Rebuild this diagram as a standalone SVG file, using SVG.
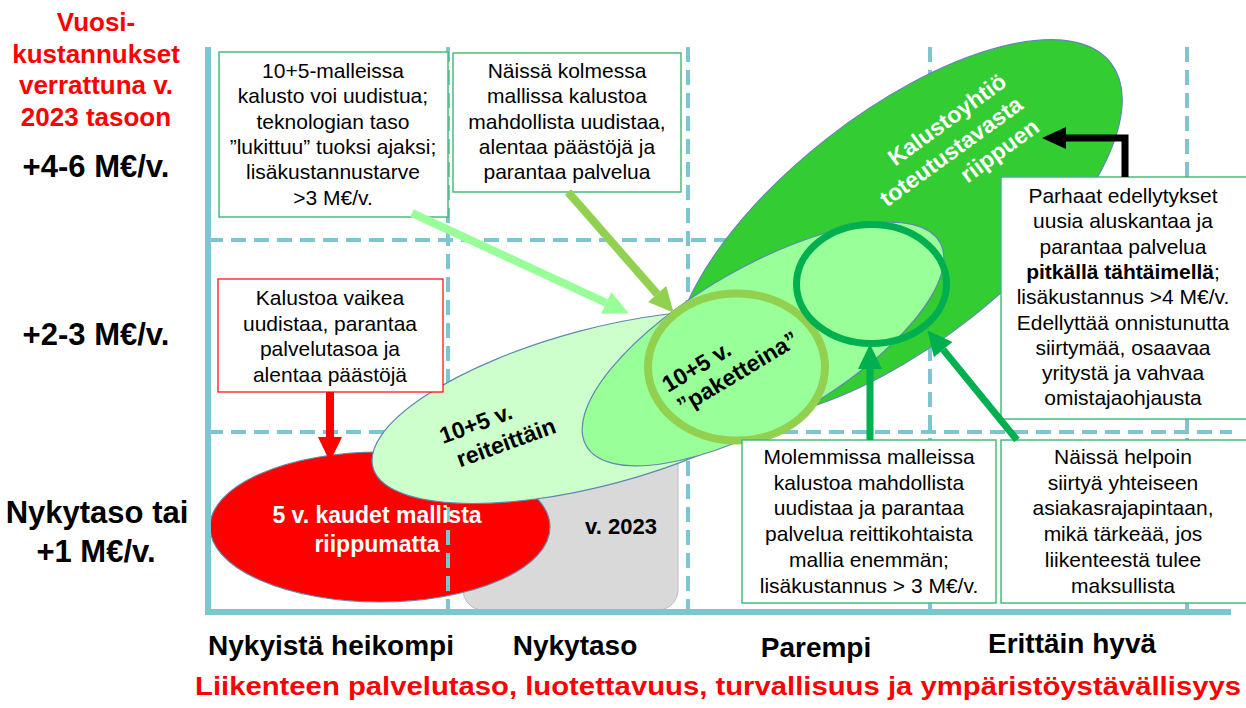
<svg xmlns="http://www.w3.org/2000/svg" width="1246" height="708" viewBox="0 0 1246 708">
<defs>
<style>
text{font-family:"Liberation Sans",Arial,sans-serif}
.bx{fill:#fff;stroke:#3DB872;stroke-width:1.4}
.bxr{fill:#fff;stroke:#FF0000;stroke-width:1.2}
.tb{font-size:21px;fill:#000;text-anchor:middle}
.lbl{font-size:31px;font-weight:bold;fill:#000;text-anchor:middle}
.red{font-size:26px;font-weight:bold;fill:#FF0000;text-anchor:middle}
.ax{font-size:28px;font-weight:bold;fill:#000;text-anchor:middle}
.el{stroke:#5F88AD;stroke-width:1.2}
.in{font-size:23px;font-weight:bold}
</style>
<marker id="ah-lg" markerUnits="userSpaceOnUse" markerWidth="26" markerHeight="26" refX="0" refY="12" orient="auto" overflow="visible"><path d="M0,0 L25,12 L0,24 z" fill="#99FF99"/></marker>
<marker id="ah-ol" markerUnits="userSpaceOnUse" markerWidth="26" markerHeight="26" refX="0" refY="12" orient="auto" overflow="visible"><path d="M0,0 L25,12 L0,24 z" fill="#92D050"/></marker>
<marker id="ah-red" markerUnits="userSpaceOnUse" markerWidth="26" markerHeight="26" refX="0" refY="12" orient="auto" overflow="visible"><path d="M0,0 L25,12 L0,24 z" fill="#FF0000"/></marker>
<marker id="ah-dg" markerUnits="userSpaceOnUse" markerWidth="26" markerHeight="26" refX="0" refY="12" orient="auto" overflow="visible"><path d="M0,0 L25,12 L0,24 z" fill="#00B050"/></marker>
<marker id="ah-bk" markerUnits="userSpaceOnUse" markerWidth="26" markerHeight="26" refX="0" refY="11" orient="auto" overflow="visible"><path d="M0,0 L24,11 L0,22 z" fill="#000"/></marker>
</defs>
<rect width="1246" height="708" fill="#fff"/>

<g id="v2023">
<rect x="463" y="445" width="215" height="165" rx="20" fill="#D9D9D9" stroke="#AFC3CC" stroke-width="1"/>
</g>
<g id="kaudet5">
<ellipse cx="380" cy="527" rx="170" ry="75" fill="#FF0000" class="el"/>
</g>

<g id="grid" stroke="#7CC6D2" stroke-width="4" stroke-dasharray="15 8" fill="none">
<line x1="448" y1="47" x2="448" y2="620"/>
<line x1="688" y1="47" x2="688" y2="620"/>
<line x1="930" y1="47" x2="930" y2="614"/>
<line x1="1187" y1="47" x2="1187" y2="614"/>
<line x1="208" y1="240" x2="1240" y2="240"/>
<line x1="208" y1="432" x2="1232" y2="432"/>
</g>
<path id="axes" d="M208,47 V612 H1231" stroke="#7CC6D2" stroke-width="6" fill="none"/>

<g id="kalustoyhtio">
<ellipse cx="898" cy="229" rx="270" ry="115" transform="rotate(-38 898 229)" fill="#33CC33" class="el"/>
</g>
<g id="reiteittain">
<ellipse cx="598" cy="407" rx="233" ry="78" transform="rotate(-15 598 407)" fill="#CCFFCC" class="el"/>
</g>
<g id="paketteina-area">
<ellipse cx="763" cy="344" rx="204" ry="77" transform="rotate(-30 763 344)" fill="#99FF99" class="el"/>
</g>
<g id="paketteina">
<ellipse cx="736.5" cy="367" rx="88.5" ry="73.5" fill="#99FF99" stroke="#92D050" stroke-width="8"/>
</g>
<g id="circle-dark">
<ellipse cx="871.5" cy="284" rx="75" ry="59.5" fill="none" stroke="#00B050" stroke-width="7"/>
</g>

<g id="box-malleissa">
<rect x="219" y="52" width="229" height="165" class="bx"/>
<text class="tb"><tspan x="333" y="78">10+5-malleissa</tspan><tspan x="333" y="103.3">kalusto voi uudistua;</tspan><tspan x="333" y="128.6">teknologian taso</tspan><tspan x="333" y="153.9">”lukittuu” tuoksi ajaksi;</tspan><tspan x="333" y="179.2">lisäkustannustarve</tspan><tspan x="333" y="204.5">&gt;3 M€/v.</tspan></text>
</g>
<g id="box-kolmessa">
<rect x="453" y="53" width="228" height="139" class="bx"/>
<text class="tb"><tspan x="567" y="78">Näissä kolmessa</tspan><tspan x="567" y="103.3">mallissa kalustoa</tspan><tspan x="567" y="128.6">mahdollista uudistaa,</tspan><tspan x="567" y="153.9">alentaa päästöjä ja</tspan><tspan x="567" y="179.2">parantaa palvelua</tspan></text>
</g>
<g id="box-vaikea">
<rect x="218" y="279" width="225" height="113" class="bxr"/>
<text class="tb"><tspan x="330" y="305">Kalustoa vaikea</tspan><tspan x="330" y="330.5">uudistaa, parantaa</tspan><tspan x="330" y="356">palvelutasoa ja</tspan><tspan x="330" y="381.5">alentaa päästöjä</tspan></text>
</g>
<g id="box-parhaat">
<rect x="1001" y="177" width="250" height="242" class="bx"/>
<text class="tb"><tspan x="1123" y="203">Parhaat edellytykset</tspan><tspan x="1123" y="228.3">uusia aluskantaa ja</tspan><tspan x="1123" y="253.6">parantaa palvelua</tspan><tspan x="1123" y="278.9"><tspan font-weight="bold">pitkällä tähtäimellä</tspan>;</tspan><tspan x="1123" y="304.2">lisäkustannus &gt;4 M€/v.</tspan><tspan x="1123" y="329.5">Edellyttää onnistunutta</tspan><tspan x="1123" y="354.8">siirtymää, osaavaa</tspan><tspan x="1123" y="380.1">yritystä ja vahvaa</tspan><tspan x="1123" y="405.4">omistajaohjausta</tspan></text>
</g>
<g id="box-molemmissa">
<rect x="742" y="440" width="254" height="163" class="bx"/>
<text class="tb"><tspan x="869" y="464">Molemmissa malleissa</tspan><tspan x="869" y="489.7">kalustoa mahdollista</tspan><tspan x="869" y="515.4">uudistaa ja parantaa</tspan><tspan x="869" y="541.1">palvelua reittikohtaista</tspan><tspan x="869" y="566.8">mallia enemmän;</tspan><tspan x="869" y="592.5">lisäkustannus &gt; 3 M€/v.</tspan></text>
</g>
<g id="box-helpoin">
<rect x="1001" y="440" width="250" height="163" class="bx"/>
<text class="tb"><tspan x="1123" y="464">Näissä helpoin</tspan><tspan x="1123" y="489.7">siirtyä yhteiseen</tspan><tspan x="1123" y="515.4">asiakasrajapintaan,</tspan><tspan x="1123" y="541.1">mikä tärkeää, jos</tspan><tspan x="1123" y="566.8">liikenteestä tulee</tspan><tspan x="1123" y="592.5">maksullista</tspan></text>
</g>

<g id="connectors" fill="none" stroke-width="8">
<line x1="412" y1="213" x2="606.2" y2="302.9" stroke="#99FF99" marker-end="url(#ah-lg)"/>
<line x1="568" y1="192" x2="657.2" y2="294" stroke="#92D050" marker-end="url(#ah-ol)"/>
<line x1="330" y1="392" x2="330" y2="437" stroke="#FF0000" marker-end="url(#ah-red)"/>
<line x1="870" y1="440" x2="870" y2="369" stroke="#00B050" stroke-width="7" marker-end="url(#ah-dg)"/>
<line x1="1017" y1="440" x2="943.2" y2="349.6" stroke="#00B050" stroke-width="7" marker-end="url(#ah-dg)"/>
<path d="M1125,177 V138 H1066" stroke="#000" stroke-width="7" marker-end="url(#ah-bk)"/>
</g>

<g id="labels-inner">
<text class="in" fill="#000" transform="translate(443,444) rotate(-20)"><tspan x="0" y="0">10+5 v.</tspan><tspan x="8" y="28">reiteittäin</tspan></text>
<text class="in" fill="#000" transform="translate(668,393) rotate(-31)"><tspan x="0" y="0">10+5 v.</tspan><tspan x="2" y="26">”paketteina”</tspan></text>
<text class="in" fill="#fff" text-anchor="end" transform="translate(1008,85) rotate(-36)"><tspan x="0" y="0">Kalustoyhtiö</tspan><tspan x="0" y="28">toteutustavasta</tspan><tspan x="0" y="56">riippuen</tspan></text>
<text class="in" fill="#fff" text-anchor="middle"><tspan x="377" y="523">5 v. kaudet mallista</tspan><tspan x="377" y="552">riippumatta</tspan></text>
<text font-size="22" font-weight="bold" fill="#000" text-anchor="middle" x="621" y="534">v. 2023</text>
</g>

<g id="y-axis-labels">
<text class="red"><tspan x="96" y="31">Vuosi-</tspan><tspan x="96" y="63">kustannukset</tspan><tspan x="96" y="94">verrattuna v.</tspan><tspan x="96" y="126">2023 tasoon</tspan></text>
<text class="lbl" x="96" y="177">+4-6 M€/v.</text>
<text class="lbl" x="96" y="345">+2-3 M€/v.</text>
<text class="lbl"><tspan x="97" y="523">Nykytaso tai</tspan><tspan x="96" y="562">+1 M€/v.</tspan></text>
</g>
<g id="x-axis-labels">
<text class="ax" x="331" y="655">Nykyistä heikompi</text>
<text class="ax" x="575" y="655">Nykytaso</text>
<text class="ax" x="816" y="657">Parempi</text>
<text class="ax" x="1072" y="653">Erittäin hyvä</text>
<text font-size="25" font-weight="bold" fill="#FF0000" x="195" y="695" textLength="1046" lengthAdjust="spacingAndGlyphs">Liikenteen palvelutaso, luotettavuus, turvallisuus ja ympäristöystävällisyys</text>
</g>
</svg>
